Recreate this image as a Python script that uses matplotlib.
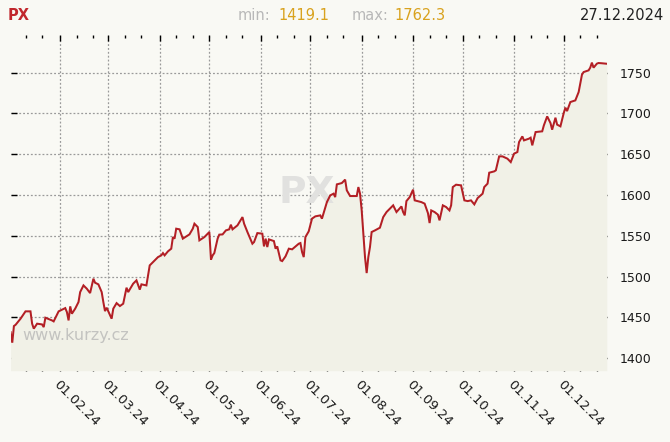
import numpy as np
import matplotlib
matplotlib.use("Agg")
import matplotlib.pyplot as plt
import matplotlib.dates as mdates
from matplotlib import font_manager

# ---- data (day offset from 2024-01-01, PX index close) ----
day_offsets = [1, 2, 3, 4, 7, 10, 13, 14, 15, 17, 20, 21, 22, 26, 27, 30, 32, 34, 35, 36,
               37, 38, 40, 42, 43, 45, 47, 49, 51, 52, 54, 56, 57, 58, 59, 62, 63, 65, 67, 69,
               71, 72, 75, 77, 79, 80, 83, 85, 87, 90, 92, 93, 94, 96, 98, 99, 100, 101, 103, 105,
               108, 109, 111, 112, 114, 115, 118, 119, 121, 122, 123, 124, 126, 127, 129, 131, 133, 134, 135, 138,
               141, 142, 144, 147, 148, 150, 153, 154, 155, 156, 157, 160, 161, 162, 164, 165, 167, 169, 171, 175,
               176, 177, 178, 179, 181, 183, 185, 188, 189, 190, 192, 194, 196, 197, 198, 201, 203, 204, 206, 210,
               211, 212, 213, 214, 215, 216, 217, 218, 219, 221, 224, 226, 228, 232, 234, 237, 238, 239, 240, 242,
               244, 245, 249, 251, 253, 254, 255, 257, 259, 260, 262, 264, 266, 267, 268, 270, 273, 275, 277, 279,
               281, 283, 286, 287, 289, 290, 293, 294, 296, 298, 301, 303, 305, 307, 308, 310, 311, 314, 315, 316,
               318, 322, 323, 325, 327, 328, 330, 331, 333, 335, 336, 337, 339, 342, 344, 346, 347, 350, 351, 352,
               353, 355, 356, 358, 361]
px_values = [1432.0, 1419.1, 1439.5, 1441.0, 1448.5, 1457.5, 1457.5, 1442.4, 1436.3, 1442.4, 1441.5, 1438.2, 1449.7, 1446.4, 1445.2, 1457.5, 1459.5, 1461.5, 1456.6, 1446.4,
             1463.6, 1454.6, 1460.8, 1468.9, 1481.1, 1489.3, 1485.3, 1479.9, 1497.5, 1492.6, 1490.6, 1481.1, 1468.9, 1457.8, 1462.0, 1448.5, 1460.8, 1467.6, 1464.0, 1466.9,
             1486.5, 1481.1, 1491.4, 1495.5, 1484.1, 1490.6, 1489.3, 1513.8, 1517.9, 1524.0, 1526.1, 1528.9, 1526.1, 1531.0, 1534.3, 1548.5, 1546.6, 1558.8, 1558.0, 1546.6,
             1550.6, 1551.8, 1558.8, 1564.9, 1560.8, 1544.5, 1548.5, 1550.6, 1554.7, 1520.8, 1526.1, 1528.9, 1546.6, 1551.5, 1551.8, 1556.7, 1558.0, 1563.7, 1558.0, 1562.9,
             1573.0, 1564.9, 1554.7, 1540.4, 1542.4, 1553.4, 1552.7, 1537.1, 1546.6, 1536.3, 1545.7, 1543.6, 1534.3, 1537.1, 1520.0, 1519.1, 1524.9, 1534.3, 1533.5, 1540.4,
             1541.2, 1530.1, 1524.0, 1548.5, 1555.5, 1571.1, 1573.9, 1575.1, 1571.1, 1577.9, 1591.4, 1599.6, 1601.7, 1597.5, 1613.1, 1614.7, 1618.9, 1605.8, 1598.8, 1598.8,
             1609.8, 1601.7, 1581.2, 1552.7, 1524.0, 1504.4, 1524.0, 1536.3, 1554.7, 1556.7, 1560.0, 1573.0, 1579.2, 1587.4, 1579.2, 1586.1, 1579.2, 1575.1, 1592.6, 1597.5,
             1606.6, 1593.5, 1591.4, 1589.5, 1577.9, 1565.7, 1581.2, 1579.2, 1576.0, 1569.0, 1587.4, 1585.3, 1581.2, 1587.4, 1609.8, 1612.7, 1611.9, 1593.5, 1592.6, 1593.5,
             1588.6, 1596.3, 1601.7, 1609.8, 1614.0, 1627.4, 1629.0, 1630.3, 1647.4, 1647.4, 1644.6, 1640.4, 1650.7, 1652.7, 1664.9, 1671.9, 1667.0, 1669.1, 1670.3, 1660.9,
             1677.2, 1678.1, 1685.4, 1696.4, 1688.2, 1680.1, 1694.8, 1686.3, 1684.2, 1700.5, 1707.1, 1702.9, 1714.0, 1716.0, 1726.2, 1747.5, 1750.7, 1752.8, 1756.1, 1762.3,
             1756.1, 1761.0, 1761.8, 1761.5, 1760.9]

title = "PX"
min_label = "min:"
max_label = "max:"
min_value = "1419.1"
max_value = "1762.3"
date_label = "27.12.2024"
y_ticks = [1400, 1450, 1500, 1550, 1600, 1650, 1700, 1750]

dates = np.datetime64("2024-01-01") + np.array(day_offsets).astype("timedelta64[D]")
values = np.array(px_values)

# ---- styling ----
BG = "#f9f9f4"
FILL = "#f1f1e7"
LINE = "#b31f25"
GRID = "#9a9a9a"

installed = {f.name for f in font_manager.fontManager.ttflist}
wm_family = "Liberation Sans Narrow" if "Liberation Sans Narrow" in installed else "DejaVu Sans"

W, H = 670, 442
fig = plt.figure(figsize=(W / 100, H / 100), dpi=100, facecolor=BG)
ax = fig.add_axes([10.6 / W, (H - 370.7) / H, 596.2 / W, 336.1 / H])
ax.set_facecolor(BG)

vmin, vmax = values.min(), values.max()
rng = vmax - vmin
ylo, yhi = vmin - 0.1 * rng, vmax + 0.1 * rng
ax.set_ylim(ylo, yhi)
ax.set_xlim(dates[0], dates[-1])

ax.fill_between(dates, values, ylo, color=FILL, zorder=1, linewidth=0)
ax.plot(dates, values, color=LINE, lw=1.45, zorder=4, solid_joinstyle="miter")

# watermarks
ax.text(0.496, 0.530, "PX", transform=ax.transAxes, fontsize=27, fontweight="bold",
        family=wm_family, color="#e1e1df", ha="center", va="center", zorder=2)
ax.text(0.11, 0.105, "www.kurzy.cz", transform=ax.transAxes, fontsize=11.5,
        color="#c3c3c0", ha="center", va="center", zorder=3)

# axes formatting
for s in ax.spines.values():
    s.set_visible(False)
ax.set_yticks(y_ticks)
ax.xaxis.set_major_locator(mdates.MonthLocator(bymonthday=1))
ax.xaxis.set_minor_locator(mdates.DayLocator(bymonthday=[11, 21]))
ax.xaxis.set_major_formatter(mdates.DateFormatter("%d.%m.%y"))

ax.grid(True, which="major", color=GRID, linestyle=(0, (1.5, 1.6)), linewidth=0.9, zorder=0)
ax.set_axisbelow(True)

ax.tick_params(axis="y", which="major", direction="in", length=4, width=1, color="black",
               left=True, right=True, labelleft=False, labelright=True, pad=9,
               labelsize=9, labelcolor="#1a1a1a")
ax.tick_params(axis="x", which="major", direction="in", length=4, width=1, color="black",
               top=True, bottom=True, labelsize=9.5, labelcolor="#1a1a1a", pad=5)
ax.tick_params(axis="x", which="minor", direction="in", length=2.5, width=1, color="black",
               top=True, bottom=True)
for lbl in ax.get_xticklabels():
    lbl.set_rotation(-45)
    lbl.set_ha("left")
    lbl.set_va("top")
    lbl.set_rotation_mode("anchor")

# header texts
def fx(x):
    return x / W

def fy(y):
    return 1 - y / H

fig.text(fx(8), fy(15), title, fontsize=10.5, fontweight="bold", color="#c1272d", va="center", ha="left")
fig.text(fx(238), fy(15), min_label, fontsize=10.5, color="#b8b8b8", va="center", ha="left")
fig.text(fx(278), fy(15), min_value, fontsize=10.5, color="#d9a21e", va="center", ha="left")
fig.text(fx(352), fy(15), max_label, fontsize=10.5, color="#b8b8b8", va="center", ha="left")
fig.text(fx(394), fy(15), max_value, fontsize=10.5, color="#d9a21e", va="center", ha="left")
fig.text(fx(664), fy(15), date_label, fontsize=10.5, color="#222222", va="center", ha="right")

fig.savefig("out.png", dpi=100, facecolor=BG)
